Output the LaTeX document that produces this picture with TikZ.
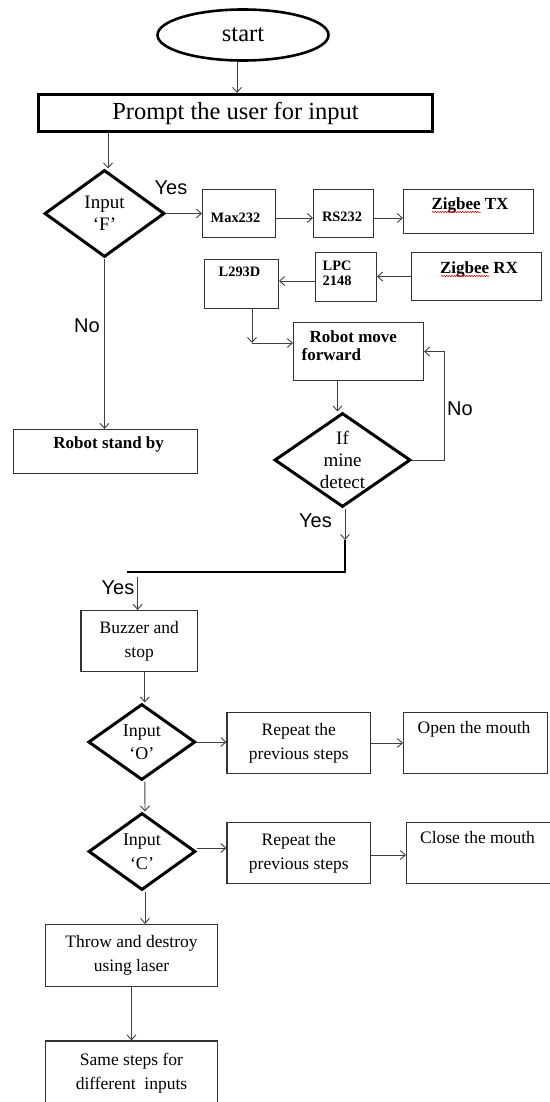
\documentclass[tikz,border=0pt]{standalone}
\usepackage{fontspec}
\setmainfont{Liberation Serif}
\newfontfamily\arialfont{Liberation Sans}
\usetikzlibrary{shapes.geometric,arrows.meta,decorations.pathmorphing}

\tikzset{
  blk/.style={rectangle,draw=black!80,line width=1.1pt,inner sep=0pt},
  term/.style={ellipse,draw=black,line width=2.6pt,inner sep=0pt},
  bigblk/.style={rectangle,draw=black,line width=3pt,inner sep=0pt},
  decision/.style={diamond,draw=black,line width=3pt,inner sep=0pt},
  arr/.style={draw=black!75,line width=0.9pt,-{Straight Barb[length=5pt,width=9pt]}},
  yesline/.style={draw=black,line width=2pt},
  bigtxt/.style={font=\fontsize{24.5pt}{28pt}\selectfont},
  txt/.style={font=\fontsize{17.5pt}{24pt}\selectfont,align=center},
  hwtxt/.style={font=\bfseries\fontsize{14.4pt}{15pt}\selectfont,align=left},
  bftxt/.style={font=\bfseries\fontsize{17pt}{18pt}\selectfont,align=left},
  dtxt/.style={font=\fontsize{19pt}{22pt}\selectfont,align=center,anchor=center},
  iotxt/.style={font=\fontsize{18pt}{23.5pt}\selectfont,align=center,anchor=center},
  intop/.style={anchor=north,inner sep=0pt},
  yn/.style={font=\arialfont\fontsize{20pt}{22pt}\selectfont,inner sep=0pt},
  squig/.style={draw=red,line width=0.5pt,decorate,decoration={snake,amplitude=0.7pt,segment length=2.5pt}}
}

\begin{document}
\begin{tikzpicture}[x=1pt,y=-1pt]
\useasboundingbox (0,0) rectangle (549,1102);

\node[term,bigtxt,minimum width=171pt,minimum height=51pt] (start) at (243,35) {start};
\node[bigblk,bigtxt,minimum width=394pt,minimum height=37pt] (prompt) at (235.5,113) {Prompt the user for input};
\node[decision,minimum width=120pt,minimum height=87pt,label={[dtxt]center:Input\\‘F’}] (inF) at (104.5,213.5) {};
\node[blk,minimum width=73pt,minimum height=48pt,label={[intop,hwtxt,xshift=-3.5pt,yshift=-23.5pt]north:Max232}] (max) at (239,213.5) {};
\node[blk,minimum width=60pt,minimum height=48.5pt,label={[intop,hwtxt,xshift=-1.5pt,yshift=-23.5pt]north:RS232}] (rs) at (343.5,213.5) {};
\node[blk,minimum width=130pt,minimum height=44pt,label={[intop,bftxt,xshift=1.5pt,yshift=-8.5pt]north:Zigbee TX}] (ztx) at (468.5,211.5) {};
\node[blk,minimum width=130pt,minimum height=48pt,label={[intop,bftxt,xshift=2.5pt,yshift=-9.5pt]north:Zigbee RX}] (zrx) at (476.5,276.5) {};
\node[blk,minimum width=61pt,minimum height=49pt,label={[hwtxt,anchor=north west,inner sep=0pt,xshift=7.5pt,yshift=-8.5pt]north west:LPC\\2148}] (lpc) at (346,277) {};
\node[blk,minimum width=74pt,minimum height=49pt,label={[intop,hwtxt,xshift=-2pt,yshift=-7.5pt]north:L293D}] (drv) at (241.5,284) {};
\node[blk,minimum width=130pt,minimum height=58pt,label={[bftxt,anchor=north west,inner sep=0pt,xshift=8.5pt,yshift=-8.5pt]north west:\hspace*{8pt}Robot move\\forward}] (robot) at (358.5,351.5) {};
\node[blk,minimum width=184pt,minimum height=44pt,label={[intop,bftxt,xshift=3.5pt,yshift=-7.5pt]north:Robot stand by}] (standby) at (105.2,451.5) {};
\node[decision,minimum width=136pt,minimum height=94pt,label={[dtxt]center:If\\mine\\detect}] (mine) at (342.5,460) {};

\coordinate (turn) at (252,343);
\coordinate (yesend) at (345,540);
\coordinate (bend) at (345,572);
\coordinate (loose) at (127,572);
\coordinate (drop) at (137.6,577);

\node[blk,txt,minimum width=116.5pt,minimum height=61pt] (buzz) at (139.25,641) {Buzzer and\\stop};
\node[decision,minimum width=107pt,minimum height=76pt,label={[iotxt]center:Input\\‘O’}] (inO) at (141.8,742) {};
\node[blk,txt,minimum width=143.5pt,minimum height=61pt] (repO) at (298.75,743) {Repeat the\\previous steps};
\node[blk,minimum width=144pt,minimum height=61pt,label={[intop,txt,xshift=-1.5pt,yshift=-9pt]north:Open the mouth}] (open) at (475.5,743) {};
\node[decision,minimum width=107pt,minimum height=77pt,label={[iotxt]center:Input\\‘C’}] (inC) at (142,851.5) {};
\node[blk,txt,minimum width=143.5pt,minimum height=61pt] (repC) at (298.75,853) {Repeat the\\previous steps};
\node[blk,minimum width=153pt,minimum height=61pt,label={[intop,txt,xshift=-5.5pt,yshift=-9pt]north:Close the mouth}] (close) at (483,853) {};
\node[blk,txt,minimum width=172pt,minimum height=62pt] (throw) at (131.5,955.5) {Throw and destroy\\using laser};
\node[blk,txt,minimum width=172pt,minimum height=64pt] (same) at (131.5,1073) {Same steps for\\different\ \ inputs};

\node[yn] (yesF) at (171,188) {Yes};
\node[yn] (noF) at (87,325.5) {No};
\node[yn] (noM) at (460,409) {No};
\node[yn] (yesM) at (315.5,521) {Yes};
\node[yn] (yesB) at (118,588) {Yes};

\draw[arr] ([xshift=-6pt]start.south) -- ([xshift=-6pt]start.south |- prompt.north);
\draw[arr] ([xshift=3.5pt]prompt.south -| inF.north) -- ([xshift=3.5pt]inF.north);
\draw[arr] (inF.east) -- (max.west);
\draw[arr] ([yshift=-4.5pt]max.east) -- ([yshift=-4.5pt]rs.west);
\draw[arr] ([yshift=-4.5pt]rs.east) -- ([yshift=-4.5pt]rs.east -| ztx.west);
\draw[arr] (zrx.west) -- (zrx.west -| lpc.east);
\draw[arr] ([yshift=-4pt]lpc.west) -- ([yshift=-4pt]lpc.west -| drv.east);
\draw[arr] (turn |- drv.south) -- (turn);
\draw[arr] (turn) -- (turn -| robot.west);
\draw[arr] ([xshift=-5pt]robot.south -| mine.north) -- ([xshift=-5pt]mine.north);
\draw[arr] (mine.east) -- ++(32,0) |- (robot.east);
\draw[arr] (yesend |- mine.south) -- (yesend);
\draw[yesline] (yesend) -- (bend) -- (loose);
\draw[arr] (inF.south) -- (inF.south |- standby.north);
\draw[arr] (drop) -- (drop |- buzz.north);
\draw[arr] ([xshift=3pt]buzz.south -| inO.north) -- ([xshift=3pt]inO.north);
\draw[arr] (inO.east) -- (inO.east -| repO.west);
\draw[arr] (repO.east) -- (open.west);
\draw[arr] ([xshift=3pt]inO.south) -- ([xshift=3pt]inC.north);
\draw[arr] ([yshift=3.5pt]inC.east) -- ([yshift=3.5pt]inC.east -| repC.west);
\draw[arr] ([yshift=-2pt]repC.east) -- ([yshift=-2pt]repC.east -| close.west);
\draw[arr] ([xshift=3pt]inC.south) -- ([xshift=3pt]inC.south |- throw.north);
\draw[arr] (throw.south) -- (throw.south |- same.north);

\draw[squig] (432,212) -- (481,212);
\draw[squig] (441,276) -- (489,276);
\end{tikzpicture}
\end{document}
